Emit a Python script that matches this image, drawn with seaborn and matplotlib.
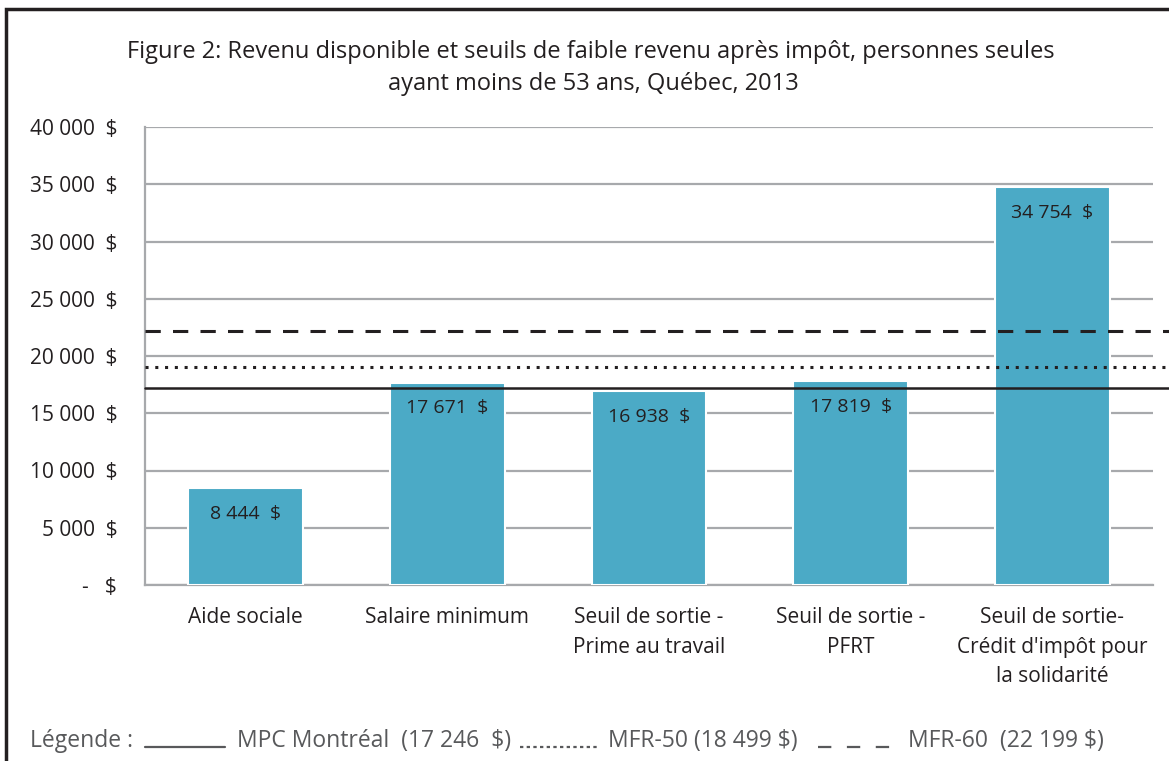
import numpy as np
import pandas as pd
import matplotlib
matplotlib.use("Agg")
import matplotlib.pyplot as plt
import seaborn as sns
from matplotlib.patches import Rectangle
from matplotlib.lines import Line2D

# ===============================
# Data
# ===============================
categories = ["Aide sociale", "Salaire minimum", "Seuil de sortie -\nPrime au travail",
              "Seuil de sortie -\nPFRT", "Seuil de sortie-\nCrédit d'impôt pour\nla solidarité"]
revenus = [8444, 17671, 16938, 17819, 34754]

seuil_noms = ["MPC Montréal  (17 246  $)", "MFR-50 (18 499 $)", "MFR-60  (22 199 $)"]
seuil_valeurs = [17246, 19000, 22199]   # line positions
seuil_styles = ["-", (0, (1, 2.2)), (0, (5, 4))]

yticks = [0, 5000, 10000, 15000, 20000, 25000, 30000, 35000, 40000]

# ===============================
# Style
# ===============================
sns.set_theme(style="white")
plt.rcParams['font.family'] = ['Open Sans', 'DejaVu Sans']

bar_color = "#4BAAC6"
text_color = "#231F20"

fig = plt.figure(figsize=(11.69, 7.61), dpi=100)
ax = fig.add_axes([145 / 1169, 1 - 585 / 761, (1153 - 145) / 1169, (585 - 127) / 761])

df = pd.DataFrame({"cat": categories, "val": revenus})
sns.barplot(data=df, x="cat", y="val", color=bar_color, saturation=1, width=0.57,
            edgecolor="white", linewidth=1.5, ax=ax, zorder=3)

ax.set_xlim(-0.5, 4.5)
ax.set_ylim(0, 40000)
ax.set_yticks(yticks)
ylabs = [("-   $" if t == 0 else f"{t:,}".replace(",", " ") + "  $") for t in yticks]
ax.set_yticklabels(ylabs, fontsize=15, color=text_color)
ax.set_xticks(range(len(categories)))
ax.set_xticklabels(categories, fontsize=15, color=text_color, linespacing=1.52)
ax.tick_params(axis="y", length=0, pad=20)
ax.tick_params(axis="x", length=0, pad=16)
ax.set_xlabel("")
ax.set_ylabel("")

ax.yaxis.grid(True, color="#A7A9AC", linewidth=1.6, zorder=0)
ax.set_axisbelow(True)
for s in ["top", "right"]:
    ax.spines[s].set_visible(False)
for s in ["left", "bottom"]:
    ax.spines[s].set_color("#A7A9AC")
    ax.spines[s].set_linewidth(1.6)

# value labels inside bars
for i, v in enumerate(revenus):
    ax.annotate(f"{v:,}".replace(",", " ") + "  $", xy=(i, v), xytext=(0, -12),
                textcoords="offset points", ha="center", va="top",
                fontsize=14, color=text_color, zorder=5)

# threshold lines
for v, ls in zip(seuil_valeurs, seuil_styles):
    lw = 2.2 if ls != "-" else 1.8
    ax.axhline(v, xmin=0, xmax=1.02, color="#231F20", linestyle=ls, linewidth=lw,
               clip_on=False, zorder=4)

# title
fig.text(591 / 1169, 1 - 52 / 761,
         "Figure 2: Revenu disponible et seuils de faible revenu après impôt, personnes seules",
         ha="center", va="center", fontsize=17, color=text_color)
fig.text(593 / 1169, 1 - 84 / 761, "ayant moins de 53 ans, Québec, 2013",
         ha="center", va="center", fontsize=17, color=text_color)

# legend at the bottom
leg_color = "#58595B"
ly = 1 - 741 / 761
lfs = 16.5
fig.text(30 / 1169, ly, "Légende :", ha="left", va="center", fontsize=lfs, color=leg_color)
fig.add_artist(Line2D([145 / 1169, 225 / 1169], [ly - 0.008, ly - 0.008], color=leg_color,
                      linewidth=1.6, linestyle="-"))
fig.text(237 / 1169, ly, seuil_noms[0], ha="left", va="center", fontsize=lfs, color=leg_color)
fig.add_artist(Line2D([520 / 1169, 598 / 1169], [ly - 0.008, ly - 0.008], color=leg_color,
                      linewidth=1.6, linestyle=(0, (1.5, 1.5))))
fig.text(608 / 1169, ly, seuil_noms[1], ha="left", va="center", fontsize=lfs, color=leg_color)
fig.add_artist(Line2D([818 / 1169, 897 / 1169], [ly - 0.008, ly - 0.008], color=leg_color,
                      linewidth=1.6, linestyle=(0, (6, 7))))
fig.text(908 / 1169, ly, seuil_noms[2], ha="left", va="center", fontsize=lfs, color=leg_color)

# outer frame
fig.add_artist(Rectangle((6 / 1169, -0.1), 1.2, 1.1 - 9 / 761, transform=fig.transFigure,
                         fill=False, edgecolor="#231F20", linewidth=2.5))

fig.savefig("out.png", dpi=100)
